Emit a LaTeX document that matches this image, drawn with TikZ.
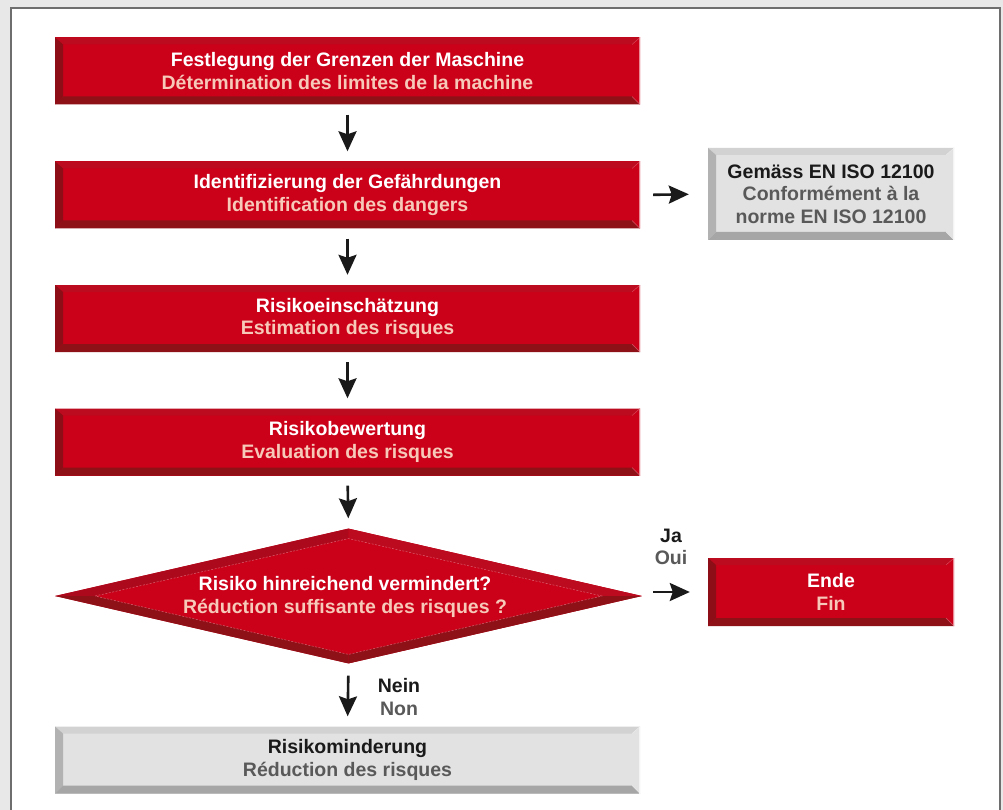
\documentclass[tikz,border=0pt]{standalone}
\usepackage{fontspec}
\setmainfont{Liberation Sans}
\usetikzlibrary{arrows.meta,shapes.geometric}
\definecolor{bgout}{HTML}{E8E8E8}
\definecolor{panelline}{HTML}{6E6E6E}
\definecolor{redface}{HTML}{CB0019}
\definecolor{redtop}{HTML}{BC0A1E}
\definecolor{redleft}{HTML}{8D0E16}
\definecolor{redbot}{HTML}{8F1118}
\definecolor{rededge}{HTML}{E98A95}
\definecolor{pinktxt}{HTML}{F6C9B8}
\definecolor{greyface}{HTML}{E2E2E2}
\definecolor{greytop}{HTML}{D2D2D2}
\definecolor{greyleft}{HTML}{B2B2B2}
\definecolor{greybot}{HTML}{A6A6A6}
\definecolor{greyedge}{HTML}{F4F4F4}
\definecolor{greytxt}{HTML}{595959}
\definecolor{darktxt}{HTML}{1A1A1A}
\definecolor{arrcol}{HTML}{1A1A1A}
\newcommand\drawbevels[5]{%
  \path (path picture bounding box.north west) coordinate (bNW)
        (path picture bounding box.north east) coordinate (bNE)
        (path picture bounding box.south west) coordinate (bSW)
        (path picture bounding box.south east) coordinate (bSE);
  \fill[#1] (bNW) -- (bNE) -- ([shift={(-8pt,-7pt)}]bNE) -- ([shift={(8pt,-7pt)}]bNW) -- cycle;
  \fill[#2] (bNW) -- ([shift={(8pt,-7pt)}]bNW) -- ([shift={(8pt,8pt)}]bSW) -- (bSW) -- cycle;
  \fill[#3] (bSW) -- ([shift={(8pt,8pt)}]bSW) -- ([shift={(-8pt,8pt)}]bSE) -- (bSE) -- cycle;
  \fill[#4] (bNE) -- (bSE) -- ([shift={(-8pt,8pt)}]bSE) -- ([shift={(-8pt,-7pt)}]bNE) -- cycle;
  \draw[#5, line width=0.7pt] ([shift={(-0.4pt,0pt)}]bNE) -- ([shift={(-0.4pt,0pt)}]bSE);
  \draw[#5, line width=0.4pt, opacity=0.6] (bNE) -- ([shift={(-8pt,-7pt)}]bNE) (bSE) -- ([shift={(-8pt,8pt)}]bSE);
}
\tikzset{
  x=1pt, y=-1pt,
  txt/.style={font=\bfseries\fontsize{19.5}{22.5}\selectfont, align=center},
  redbox/.style={txt, shape=rectangle, fill=redface, text=white, inner sep=0pt,
    minimum width=585pt, minimum height=67pt,
    path picture={\drawbevels{redtop}{redleft}{redbot}{redface}{rededge}}},
  greybox/.style={txt, shape=rectangle, fill=greyface, text=darktxt, inner sep=0pt,
    minimum width=585pt, minimum height=67pt,
    path picture={\drawbevels{greytop}{greyleft}{greybot}{greyface}{greyedge}}},
  arr/.style={draw=arrcol, line width=2.6pt,
    -{Stealth[length=20pt,width=18pt,inset=3pt]}},
  lbl/.style={txt, text=darktxt, inner sep=0pt}
}
\begin{document}
\begin{tikzpicture}
\useasboundingbox (0,0) rectangle (1003,810);
\fill[bgout] (0,0) rectangle (1003,810);
\fill[white] (11,8) rectangle (1000,815);
\draw[panelline, line width=2pt] (11,815) -- (11,8) -- (1000,8) -- (1000,815);

% main column
\node[redbox] (b1) at (347.5,71) {Festlegung der Grenzen der Maschine\\\textcolor{pinktxt}{Détermination des limites de la machine}};
\node[redbox] (b2) at (347.5,195) {Identifizierung der Gefährdungen\\\textcolor{pinktxt}{Identification des dangers}};
\node[redbox] (b3) at (347.5,318.5) {Risikoeinschätzung\\\textcolor{pinktxt}{Estimation des risques}};
\node[redbox] (b4) at (347.5,442) {Risikobewertung\\\textcolor{pinktxt}{Evaluation des risques}};

% decision diamond
\node[diamond, fill=redface, inner sep=0pt, minimum width=587pt, minimum height=135pt,
  shape aspect=4.35,
  path picture={
    \path (path picture bounding box.north) coordinate (dN)
          (path picture bounding box.south) coordinate (dS)
          (path picture bounding box.east) coordinate (dE)
          (path picture bounding box.west) coordinate (dW);
    \path ([yshift=-10pt]dN) coordinate (iN) ([yshift=9pt]dS) coordinate (iS)
          ([xshift=-40pt]dE) coordinate (iE) ([xshift=40pt]dW) coordinate (iW);
    \fill[redtop!92!black] (dW) -- (dN) -- (iN) -- (iW) -- cycle;
    \fill[redtop] (dN) -- (dE) -- (iE) -- (iN) -- cycle;
    \fill[redbot] (dW) -- (iW) -- (iS) -- (dS) -- cycle;
    \fill[redbot] (dS) -- (iS) -- (iE) -- (dE) -- cycle;
    \draw[rededge, line width=0.5pt, dashed, dash pattern=on 2pt off 1.5pt, opacity=0.7]
      (iW) -- (iN) -- (iE) -- (iS) -- cycle;
  }] (dia) at (348.5,596) {};
\node[txt, text=white, inner sep=0pt] (diatxt) at (345,597) {Risiko hinreichend vermindert?\\\textcolor{pinktxt}{Réduction suffisante des risques ?}};

\node[greybox] (b6) at (347.5,760) {Risikominderung\\\textcolor{greytxt}{Réduction des risques}};

% right column
\node[greybox, minimum width=246pt, minimum height=92pt] (iso) at (831,194)
  {Gemäss EN ISO 12100\\\textcolor{greytxt}{Conformément à la}\\\textcolor{greytxt}{norme EN ISO 12100}};
\node[redbox, minimum width=246pt, minimum height=68pt] (ende) at (831,592)
  {Ende\\\textcolor{pinktxt}{Fin}};

% connectors
\draw[arr, shorten <=10pt, shorten >=10pt] (b1.south) -- (b2.north);
\draw[arr, shorten <=10pt, shorten >=10pt] (b2.south) -- (b3.north);
\draw[arr, shorten <=10pt, shorten >=10pt] (b3.south) -- (b4.north);
\draw[arr, shorten <=10pt, shorten >=10pt] (b4.south) -- (dia.north);
\draw[arr, shorten <=12pt, shorten >=10pt] (dia.south) -- (b6.north);
\draw[arr, shorten <=13pt, shorten >=19pt] (b2.east) -- (iso.west);
\draw[arr, shorten <=11pt, shorten >=18pt] (dia.east |- ende.west) -- (ende.west);

% labels
\node[lbl] (ja) at (671,547) {Ja\\\textcolor{greytxt}{Oui}};
\node[lbl] (nein) at (399,697) {Nein\\\textcolor{greytxt}{Non}};
\end{tikzpicture}
\end{document}
